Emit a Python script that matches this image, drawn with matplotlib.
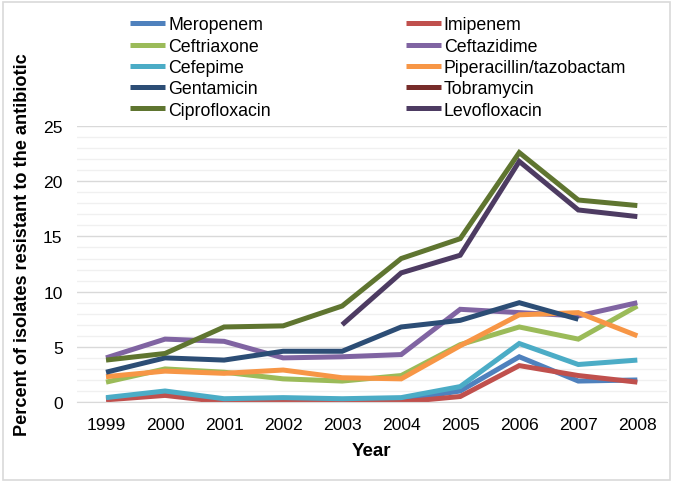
"""Percent of isolates resistant to each antibiotic, 1999-2008."""

import matplotlib

matplotlib.use("Agg")

import matplotlib.pyplot as plt
import numpy as np
from matplotlib.patches import Rectangle

nan = np.nan

years = ["1999", "2000", "2001", "2002", "2003", "2004", "2005", "2006", "2007", "2008"]

meropenem = [0.3, 0.7, 0.1, 0.2, 0.1, 0.2, 1.0, 4.1, 1.9, 2.0]
imipenem = [0.2, 0.6, 0.0, 0.0, 0.0, 0.0, 0.5, 3.3, 2.4, 1.8]
ceftriaxone = [1.8, 3.0, 2.7, 2.1, 1.9, 2.4, 5.2, 6.8, 5.7, 8.7]
ceftazidime = [4.0, 5.7, 5.5, 4.0, 4.1, 4.3, 8.4, 8.1, 7.8, 9.0]
cefepime = [0.4, 1.0, 0.3, 0.4, 0.3, 0.4, 1.4, 5.3, 3.4, 3.8]
piperacillin = [2.3, 2.8, 2.6, 2.9, 2.2, 2.1, 5.1, 7.9, 8.1, 6.0]
gentamicin = [2.7, 4.0, 3.8, 4.6, 4.6, 6.8, 7.4, 9.0, 7.5, nan]
tobramycin = [nan] * 10
ciprofloxacin = [3.8, 4.4, 6.8, 6.9, 8.7, 13.0, 14.8, 22.6, 18.3, 17.8]
levofloxacin = [nan, nan, nan, nan, 7.0, 11.7, 13.3, 21.8, 17.4, 16.8]

series = [
    ("Meropenem", meropenem, "#4F81BD"),
    ("Imipenem", imipenem, "#C0504D"),
    ("Ceftriaxone", ceftriaxone, "#9BBB59"),
    ("Ceftazidime", ceftazidime, "#8064A2"),
    ("Cefepime", cefepime, "#4BACC6"),
    ("Piperacillin/tazobactam", piperacillin, "#F79646"),
    ("Gentamicin", gentamicin, "#2C4D75"),
    ("Tobramycin", tobramycin, "#772C2A"),
    ("Ciprofloxacin", ciprofloxacin, "#5F7530"),
    ("Levofloxacin", levofloxacin, "#4D3B62"),
]

plt.rcParams["font.family"] = ["Liberation Sans", "DejaVu Sans"]

fig = plt.figure(figsize=(6.77, 4.85), dpi=100)
ax = fig.add_axes([0.113, 0.169, 0.872, 0.569])

x = np.arange(len(years))
handles = []
for name, values, color in series:
    (line,) = ax.plot(x, values, color=color, lw=3.6, label=name,
                      solid_joinstyle="miter", solid_capstyle="butt")
    handles.append(line)

ax.set_xlim(-0.5, len(years) - 0.5)
ax.set_ylim(0, 25)
ax.set_xticks(x)
ax.set_xticklabels(years)
ax.set_yticks(np.arange(0, 26, 5))
ax.set_yticks(np.arange(0, 26, 1), minor=True)
ax.tick_params(axis="both", which="both", length=0, labelsize=12.6, colors="#000000")
ax.tick_params(axis="x", pad=11)
ax.tick_params(axis="y", pad=10)

ax.grid(axis="y", which="major", color="#D9D9D9", lw=1)
ax.grid(axis="y", which="minor", color="#F0F0F0", lw=1)
ax.set_axisbelow(True)
for side in ["top", "right", "left"]:
    ax.spines[side].set_visible(False)
ax.spines["bottom"].set_color("#D9D9D9")

ax.set_xlabel("Year", fontsize=13.5, fontweight="bold", labelpad=7)
fig.text(0.033, 0.495, "Percent of isolates resistant to the antibiotic",
         rotation=90, ha="center", va="center", fontsize=13.1, fontweight="bold")

# legend filled row by row: two columns
order = [0, 2, 4, 6, 8, 1, 3, 5, 7, 9]
fig.legend([handles[i] for i in order], [series[i][0] for i in order],
           ncol=2, loc="upper left", bbox_to_anchor=(0.192, 0.964),
           frameon=False, fontsize=12.8, handlelength=1.97, handletextpad=0.17,
           columnspacing=7.6, labelspacing=0.24, borderpad=0, borderaxespad=0)

fig.patches.append(Rectangle((0.005, 0.008), 0.985, 0.985, transform=fig.transFigure,
                             fill=False, edgecolor="#D9D9D9", lw=1.2))

fig.savefig("out.png", dpi=100)
